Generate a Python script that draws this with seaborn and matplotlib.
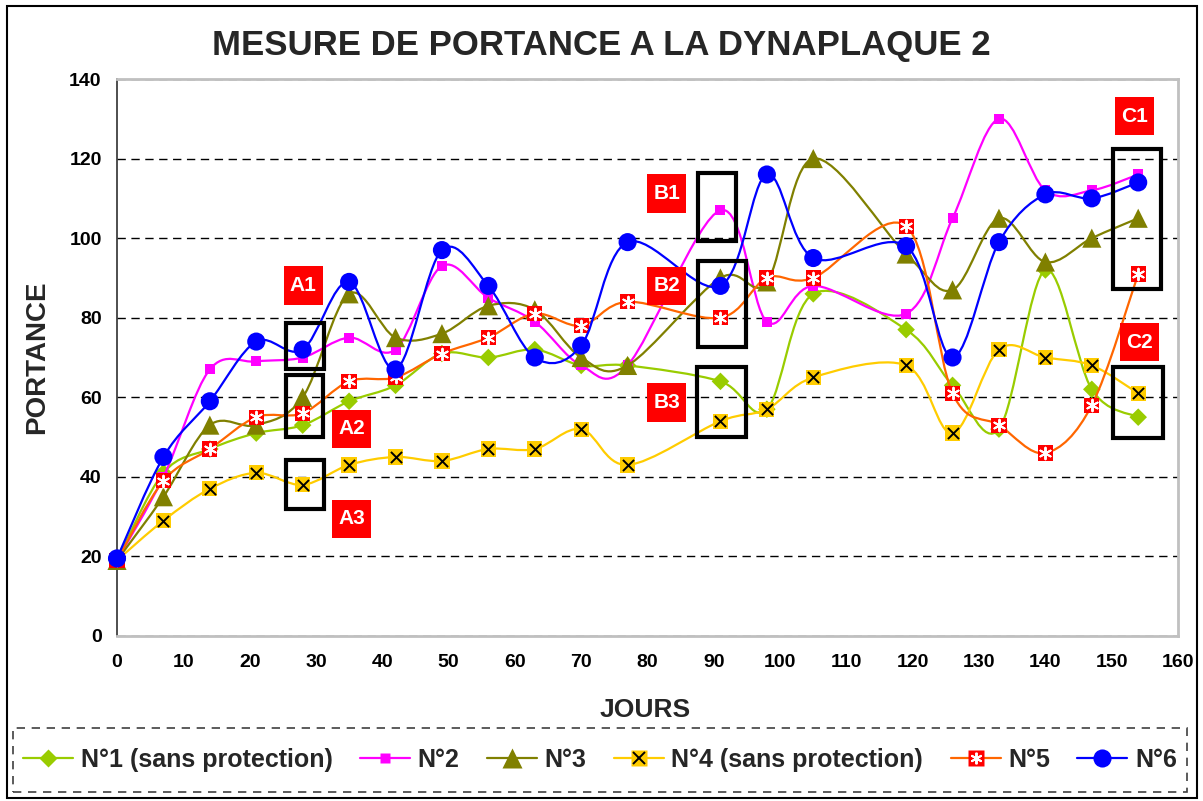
import numpy as np
import pandas as pd
import seaborn as sns
import matplotlib.pyplot as plt
from matplotlib.path import Path
from matplotlib.patches import PathPatch, Rectangle
from matplotlib.lines import Line2D

# jours de mesure
jours = [0, 7, 14, 21, 28, 35, 42, 49, 56, 63, 70, 77, 91, 98, 105, 119, 126, 133, 140, 147, 154]

# portance
n1 = [19, 41, 47, 51, 53, 59, 63, 71, 70, 72, 68, 68, 64, 57, 86, 77, 63, 52, 92, 62, 55]
n2 = [19, 40, 67, 69, 70, 75, 72, 93, 85, 79, 68, 68, 107, 79, 88, 81, 105, 130, 112, 112, 116]
n3 = [19, 35, 53, 53, 60, 86, 75, 76, 83, 82, 70, 68, 90, 89, 120, 96, 87, 105, 94, 100, 105]
n4 = [19, 29, 37, 41, 38, 43, 45, 44, 47, 47, 52, 43, 54, 57, 65, 68, 51, 72, 70, 68, 61]
n5 = [19, 39, 47, 55, 56, 64, 65, 71, 75, 81, 78, 84, 80, 90, 90, 103, 61, 53, 46, 58, 91]
n6 = [19.5, 45, 59, 74, 72, 89, 67, 97, 88, 70, 73, 99, 88, 116, 95, 98, 70, 99, 111, 110, 114]

noms = ["N°1 (sans protection)", "N°2", "N°3", "N°4 (sans protection)", "N°5", "N°6"]

annot_labels = ["A1", "A2", "A3", "B1", "B2", "B3", "C1", "C2"]

sns.set_style("white")
plt.rcParams['font.family'] = ['Liberation Sans', 'DejaVu Sans']
plt.rcParams['font.weight'] = 'bold'


def smooth_path(xs, ys):
    # courbe lissee facon Excel (bezier a partir des voisins)
    pts = np.column_stack([xs, ys]).astype(float)
    verts = [pts[0]]
    codes = [Path.MOVETO]
    for i in range(len(pts) - 1):
        p0 = pts[i - 1] if i > 0 else pts[i]
        p1 = pts[i]
        p2 = pts[i + 1]
        p3 = pts[i + 2] if i + 2 < len(pts) else pts[i + 1]
        verts += [p1 + (p2 - p0) / 6, p2 - (p3 - p1) / 6, p2]
        codes += [Path.CURVE4] * 3
    return Path(verts, codes)


fig = plt.figure(figsize=(12.03, 8.01), dpi=100)
ax = fig.add_axes([117 / 1203, 1 - 636 / 801, (1178 - 117) / 1203, (636 - 79) / 801])

# style de chaque serie: couleur ligne, marqueur, taille, couleur marqueur, surcouche
styles = [
    dict(line="#99CC00", marker="D", s=80, face="#99CC00", over=None),
    dict(line="#FF00FF", marker="s", s=52, face="#FF00FF", over=None),
    dict(line="#808000", marker="^", s=190, face="#808000", over=None),
    dict(line="#FFCC00", marker="s", s=120, face="#FFCC00", over=("x", "black", 64)),
    dict(line="#FF6600", marker="s", s=120, face="#FF0000", over=((6, 2, 0), "white", 70)),
    dict(line="#0000FF", marker="o", s=170, face="#0000FF", over=None),
]

series = [n1, n2, n3, n4, n5, n6]
for k, (vals, st) in enumerate(zip(series, styles)):
    df = pd.DataFrame({"jours": jours, "portance": vals})
    z = 3 + 2 * k
    ax.add_patch(PathPatch(smooth_path(df["jours"], df["portance"]), fill=False,
                           edgecolor=st["line"], lw=1.6, zorder=z))
    sns.scatterplot(data=df, x="jours", y="portance", ax=ax, marker=st["marker"],
                    s=st["s"], color=st["face"], edgecolor="none", linewidth=0,
                    zorder=z + 0.5, clip_on=False, legend=False)
    if st["over"] is not None:
        m, c, s = st["over"]
        sns.scatterplot(data=df, x="jours", y="portance", ax=ax, marker=m, s=s,
                        color=c, linewidth=1.4, zorder=z + 0.7, clip_on=False,
                        legend=False)

ax.set_xlim(0, 160)
ax.set_ylim(0, 140)
ax.set_xticks(range(0, 161, 10))
ax.set_yticks(range(0, 141, 20))
ax.tick_params(axis="both", labelsize=14, direction="out", length=5, width=1)
ax.tick_params(axis="x", colors="#B0B0B0", labelcolor="black", pad=8)
ax.tick_params(axis="y", colors="#404040", labelcolor="black", pad=6)
for lab in ax.get_xticklabels() + ax.get_yticklabels():
    lab.set_fontweight("bold")
ax.set_xlabel("")
ax.set_ylabel("")
ax.yaxis.grid(True, linestyle=(0, (6, 4)), color="black", lw=1)
ax.xaxis.grid(False)
for side in ["top", "right", "bottom"]:
    ax.spines[side].set_color("#C0C0C0")
    ax.spines[side].set_linewidth(2)
ax.spines["left"].set_color("#303030")
ax.spines["left"].set_linewidth(1.2)

# etiquettes rouges
centres = [(28.1, 88.1), (35.4, 52.1), (35.4, 29.5), (82.9, 111.2),
           (82.9, 88.0), (82.9, 58.7), (153.4, 130.6), (154.2, 73.8)]
bw, bh = 5.9, 9.6
for lab, (cx, cy) in zip(annot_labels, centres):
    ax.add_patch(Rectangle((cx - bw / 2, cy - bh / 2), bw, bh, facecolor="#FF0000",
                           edgecolor="none", zorder=20, clip_on=False))
    ax.text(cx, cy, lab, color="white", fontsize=15, fontweight="bold",
            ha="center", va="center", zorder=21)

# cadres noirs
cadres = [(25.5, 31.2, 67.1, 78.7), (25.5, 31.1, 50.0, 65.6), (25.5, 31.2, 31.9, 44.2),
          (87.6, 93.4, 99.3, 116.4), (87.6, 94.9, 72.6, 94.2), (87.5, 94.9, 50.0, 67.6),
          (150.2, 157.5, 87.2, 122.4), (150.2, 157.8, 49.8, 67.6)]
for x0, x1, y0, y1 in cadres:
    ax.add_patch(Rectangle((x0, y0), x1 - x0, y1 - y0, fill=False, edgecolor="black",
                           lw=3, zorder=22, clip_on=False))

fig.text(0.5, 1 - 45 / 801, "MESURE DE PORTANCE A LA DYNAPLAQUE 2", ha="center",
         va="center", fontsize=25, fontweight="bold")
fig.text(37 / 1203, 1 - 357 / 801, "PORTANCE", rotation=90, ha="center", va="center",
         fontsize=20, fontweight="bold")
fig.text(645 / 1203, 1 - 710 / 801, "JOURS", ha="center", va="center",
         fontsize=19, fontweight="bold")

# legende
handles = []
for st in styles:
    base = Line2D([], [], color=st["line"], lw=1.6, marker=st["marker"],
                  markersize=np.sqrt(st["s"]), markerfacecolor=st["face"],
                  markeredgecolor="none")
    if st["over"] is not None:
        m, c, s = st["over"]
        top = Line2D([], [], linestyle="none", marker=m, markersize=np.sqrt(s),
                     color=c, markeredgewidth=1.4)
        handles.append((base, top))
    else:
        handles.append(base)
leg = fig.legend(handles, noms, loc="center", bbox_to_anchor=(600 / 1203, 1 - 760 / 801),
                 ncol=6, frameon=False, fontsize=18, handlelength=2.0,
                 handletextpad=0.3, columnspacing=1.1)
for t in leg.get_texts():
    t.set_fontweight("bold")

fig.patches.append(Rectangle((13 / 1203, 1 - 792 / 801), 1174 / 1203, 64 / 801,
                             transform=fig.transFigure, fill=False, edgecolor="#404040",
                             lw=1.2, linestyle=(0, (5, 4))))
fig.patches.append(Rectangle((7 / 1203, 1 - 798 / 801), 1190 / 1203, 792 / 801,
                             transform=fig.transFigure, fill=False, edgecolor="black",
                             lw=1.5))

fig.savefig("out.png", dpi=100)
